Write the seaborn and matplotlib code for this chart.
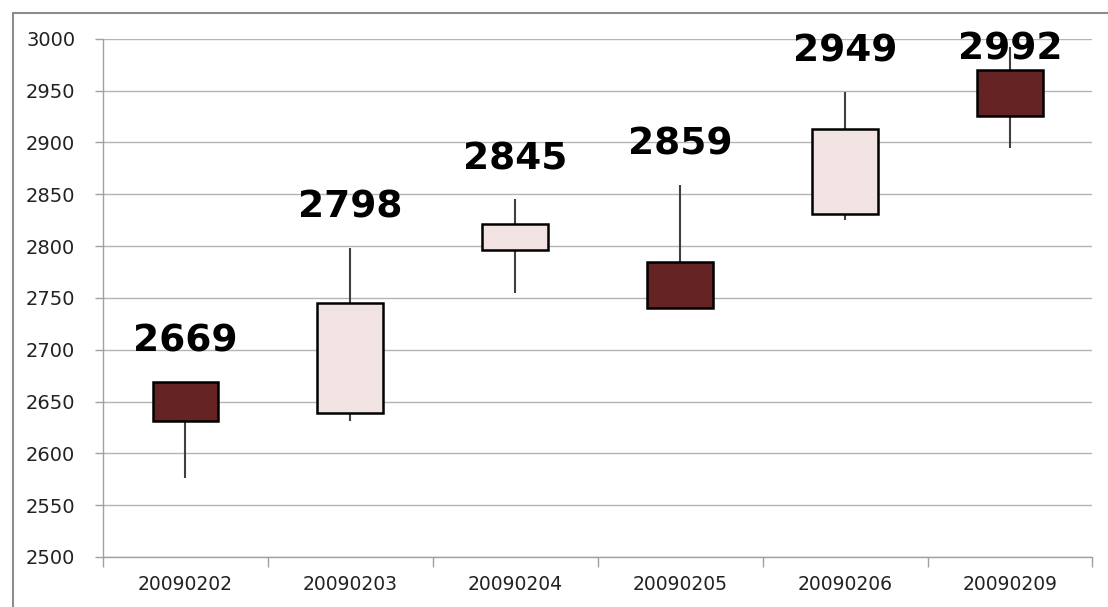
import numpy as np
import pandas as pd
import matplotlib.pyplot as plt
import seaborn as sns
from matplotlib.lines import Line2D

# daily candles
dates = ['20090202', '20090203', '20090204', '20090205', '20090206', '20090209']
open_px = [2669, 2639, 2796, 2785, 2831, 2970]
close_px = [2631, 2745, 2821, 2740, 2913, 2926]
high_px = [2669, 2798, 2845, 2859, 2949, 2992]
low_px = [2576, 2631, 2755, 2739, 2825, 2895]

df = pd.DataFrame({'date': dates, 'open': open_px, 'close': close_px,
                   'high': high_px, 'low': low_px})
df['body_low'] = df[['open', 'close']].min(axis=1)
df['body_h'] = (df['open'] - df['close']).abs()
df['color'] = np.where(df['close'] >= df['open'], '#f2e3e3', '#662323')

sns.set_style('white')
fig = plt.figure(figsize=(11.08, 6.07), dpi=100)
ax = fig.add_axes([0.093, 0.0824, 0.893, 0.8536])

x = np.arange(len(df))
# wicks first so the bodies sit on top
ax.vlines(x, df['low'], df['high'], color='#404040', lw=1.5, zorder=2)
ax.bar(x, df['body_h'], bottom=df['body_low'], width=0.4, color=df['color'],
       edgecolor='black', linewidth=1.8, zorder=3)

for i, h in enumerate(df['high']):
    ax.text(i, min(h + 39, 2990), str(h), ha='center', va='center',
            fontsize=27, fontweight='bold', color='black', zorder=4)

ax.set_ylim(2500, 3000)
ax.set_xlim(-0.5, len(df) - 0.5)
ax.set_yticks(np.arange(2500, 3001, 50))
ax.yaxis.grid(True, color='#b4b4b4', lw=1)
ax.set_axisbelow(True)

# category boundary ticks on x, labels in the middle
ax.set_xticks(x)
ax.set_xticklabels(dates, fontsize=13.5, color='#222222')
ax.set_xticks(np.arange(-0.5, len(df), 1), minor=True)
ax.tick_params(axis='x', which='major', length=0, pad=13)
ax.tick_params(axis='x', which='minor', length=7, color='#a0a0a0', width=1,
               direction='out', bottom=True)
ax.tick_params(axis='y', length=6, color='#a0a0a0', width=1, direction='out',
               labelsize=14, labelcolor='#222222', pad=14, left=True)

for s in ['top', 'right']:
    ax.spines[s].set_visible(False)
for s in ['left', 'bottom']:
    ax.spines[s].set_color('#a0a0a0')
    ax.spines[s].set_linewidth(1)

# outer chart frame (only top/left visible in the crop)
fig.add_artist(Line2D([0.0117, 1.0], [0.979, 0.979], color='#8c8c8c', lw=1.5))
fig.add_artist(Line2D([0.0117, 0.0117], [0.0, 0.979], color='#8c8c8c', lw=1.5))

fig.savefig('out.png', dpi=100)
